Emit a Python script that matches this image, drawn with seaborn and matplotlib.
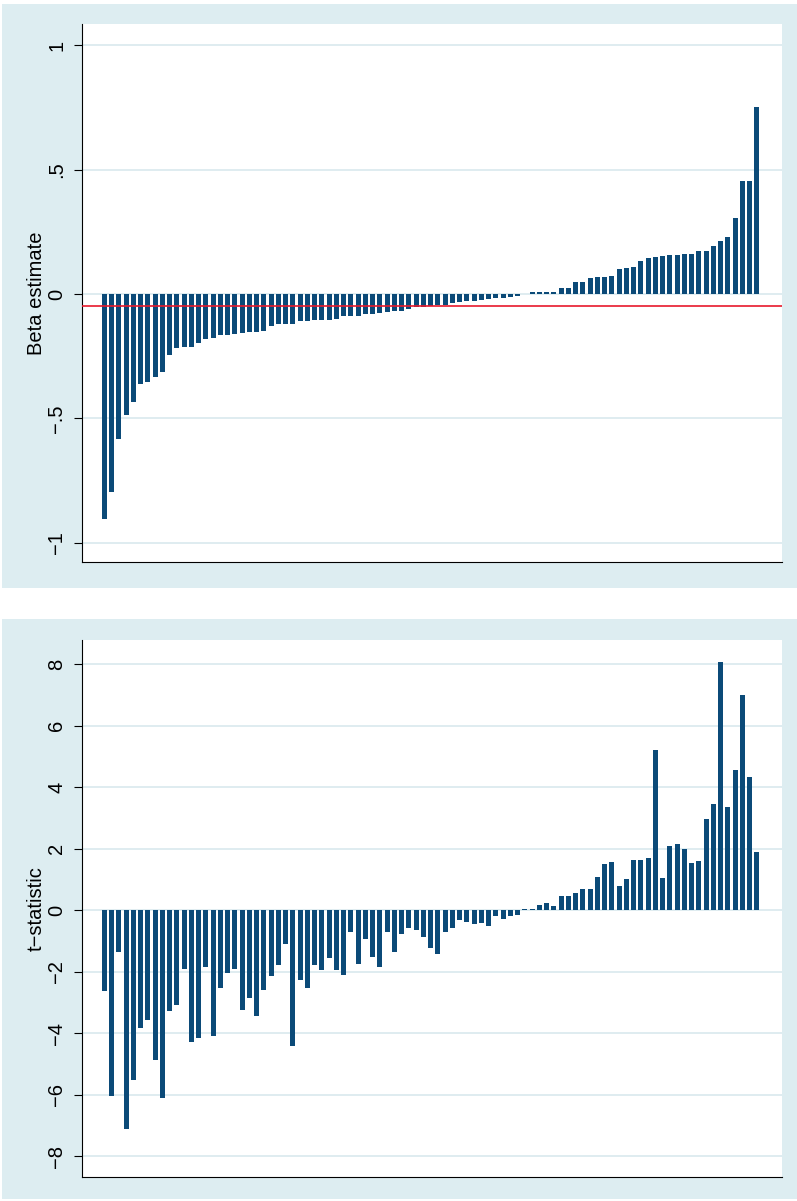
import numpy as np
import pandas as pd
import matplotlib
matplotlib.use('Agg')
import matplotlib.pyplot as plt
import seaborn as sns

# sorted beta estimates, one bar each
beta = [-0.904, -0.795, -0.582, -0.486, -0.434, -0.361, -0.353, -0.333, -0.313, -0.245,
        -0.217, -0.213, -0.213, -0.197, -0.181, -0.177, -0.165, -0.165, -0.161, -0.157,
        -0.153, -0.153, -0.149, -0.129, -0.120, -0.120, -0.120, -0.108, -0.108, -0.104,
        -0.104, -0.104, -0.100, -0.088, -0.088, -0.088, -0.080, -0.080, -0.076, -0.072,
        -0.068, -0.068, -0.060, -0.054, -0.052, -0.050, -0.044, -0.044, -0.036, -0.032,
        -0.028, -0.028, -0.024, -0.020, -0.016, -0.016, -0.012, -0.008, -0.002, 0.007,
        0.007, 0.007, 0.007, 0.023, 0.023, 0.047, 0.047, 0.063, 0.067, 0.067,
        0.071, 0.100, 0.104, 0.108, 0.132, 0.144, 0.148, 0.152, 0.156, 0.156,
        0.160, 0.160, 0.173, 0.173, 0.193, 0.213, 0.229, 0.306, 0.456, 0.456,
        0.751]

# t-statistics in the same order
tstat = [-2.64, -6.05, -1.38, -7.13, -5.53, -3.84, -3.56, -4.87, -6.10, -3.29,
         -3.09, -1.91, -4.29, -4.16, -1.86, -4.09, -2.54, -2.06, -1.93, -3.25,
         -2.87, -3.45, -2.61, -2.16, -1.80, -1.12, -4.42, -2.28, -2.54, -1.78,
         -1.96, -1.57, -1.96, -2.12, -0.70, -1.77, -0.93, -1.54, -1.86, -0.70,
         -1.38, -0.77, -0.57, -0.64, -0.89, -1.22, -1.42, -0.70, -0.60, -0.34,
         -0.38, -0.47, -0.41, -0.51, -0.18, -0.28, -0.18, -0.15, 0.02, 0.05,
         0.17, 0.24, 0.14, 0.46, 0.46, 0.56, 0.68, 0.68, 1.07, 1.49,
         1.56, 0.78, 1.01, 1.62, 1.62, 1.69, 5.19, 1.04, 2.08, 2.14,
         1.98, 1.53, 1.59, 2.95, 3.44, 8.08, 3.34, 4.55, 6.98, 4.32,
         1.88]

beta_mean = -0.048

beta_ticks = [1, 0.5, 0, -0.5, -1]
beta_ticklabels = ['1', '.5', '0', '\u2212.5', '\u22121']
t_ticks = [8, 6, 4, 2, 0, -2, -4, -6, -8]
t_ticklabels = ['8', '6', '4', '2', '0', '\u22122', '\u22124', '\u22126', '\u22128']

bar_color = '#0b4a78'
region_color = '#ddedf1'
grid_color = '#dfecf0'

sns.set_style('white')
plt.rcParams['font.family'] = ['Liberation Sans', 'DejaVu Sans']

W, H = 797, 1201
fig = plt.figure(figsize=(W / 100, H / 100), dpi=100)


def px_axes(x0, y0, x1, y1, **kw):
    return fig.add_axes([x0 / W, 1 - y1 / H, (x1 - x0) / W, (y1 - y0) / H], **kw)


# light blue graph regions behind each panel
for y0, y1 in [(4, 588), (619, 1199)]:
    bg = px_axes(2, y0, 797, y1, zorder=-5)
    bg.set_facecolor(region_color)
    bg.set_xticks([])
    bg.set_yticks([])
    for s in bg.spines.values():
        s.set_visible(False)


def draw_panel(ax, values, ticks, ticklabels, ylim, label):
    df = pd.DataFrame({'idx': range(len(values)), 'value': values})
    sns.barplot(data=df, x='idx', y='value', color=bar_color, saturation=1,
                width=0.69, linewidth=0, errorbar=None, ax=ax)
    ax.set_xlim(-3.076, 93.48)
    ax.set_ylim(*ylim)
    ax.set_xticks([])
    ax.set_xlabel('')
    ax.set_yticks(ticks)
    ax.set_yticklabels(ticklabels, rotation=90, va='center')
    ax.yaxis.grid(True, color=grid_color, lw=1.4)
    ax.set_axisbelow(True)
    ax.tick_params(axis='y', left=True, length=5.8, width=0.8, color='black',
                   pad=5.5, labelsize=14.5, labelcolor='black')
    sns.despine(ax=ax)
    for side in ['left', 'bottom']:
        ax.spines[side].set_color('black')
        ax.spines[side].set_linewidth(0.8)
    ax.set_ylabel(label, fontsize=14.5, color='black')
    ax.yaxis.set_label_coords(-0.0516, 0.5)


ax1 = px_axes(82, 24, 782, 562)
draw_panel(ax1, beta, beta_ticks, beta_ticklabels, (-1.078, 1.086), 'Beta estimate')
ax1.axhline(beta_mean, color='#e8192c', lw=1.2, zorder=4)

ax2 = px_axes(82, 640, 782, 1177)
draw_panel(ax2, tstat, t_ticks, t_ticklabels, (-8.68, 8.78), 't\u2212statistic')

fig.savefig('out.png', dpi=100, facecolor='white')
